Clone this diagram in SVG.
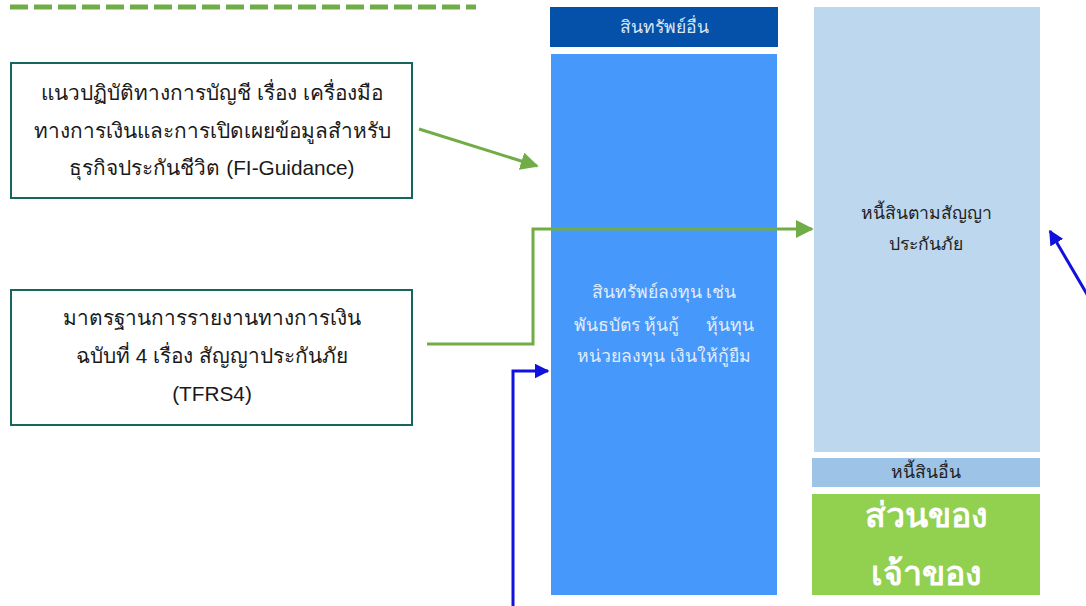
<svg xmlns="http://www.w3.org/2000/svg" width="1086" height="606" viewBox="0 0 1086 606">
<defs>
<style>
.src rect{fill:#fff;stroke:#17665E;stroke-width:2}
.src text{font-family:"Liberation Sans","Noto Sans",sans-serif;font-size:20.8px;fill:#1a1a1a;text-anchor:middle}
.lt{font-family:"Liberation Sans","Noto Sans",sans-serif;font-size:17.6px;text-anchor:middle}
.g{stroke:#70AD47;stroke-width:3;fill:none}
.b{stroke:#1111DD;stroke-width:3;fill:none}
</style>
<marker id="ag" viewBox="0 0 10 10" refX="9" refY="5" markerWidth="6" markerHeight="6" orient="auto" markerUnits="strokeWidth"><path d="M0,0L10,5L0,10z" fill="#70AD47"/></marker>
<marker id="ab" viewBox="0 0 10 10" refX="9" refY="5" markerWidth="5" markerHeight="5" orient="auto" markerUnits="strokeWidth"><path d="M0,0L10,5L0,10z" fill="#1111DD"/></marker>
</defs>
<rect width="1086" height="606" fill="#fff"/>
<line x1="10" y1="7" x2="476" y2="7" stroke="#70AD47" stroke-width="5" stroke-dasharray="18 6"/>
<g id="fi-guidance" class="src">
<rect x="11" y="63" width="401" height="135"/>
<text x="212" y="100">แนวปฏิบัติทางการบัญชี เรื่อง เครื่องมือ</text>
<text x="212" y="138">ทางการเงินและการเปิดเผยข้อมูลสำหรับ</text>
<text x="212" y="175">ธุรกิจประกันชีวิต (FI-Guidance)</text>
</g>
<g id="tfrs4" class="src">
<rect x="11" y="290" width="401" height="135"/>
<text x="212" y="325">มาตรฐานการรายงานทางการเงิน</text>
<text x="212" y="363">ฉบับที่ 4 เรื่อง สัญญาประกันภัย</text>
<text x="212" y="401">(TFRS4)</text>
</g>
<g id="other-assets">
<rect x="550" y="7" width="228" height="40" fill="#0550A8"/>
<text class="lt" x="664" y="33" fill="#D9E6F5">สินทรัพย์อื่น</text>
</g>
<g id="investment-assets">
<rect x="551" y="54" width="226" height="541" fill="#4698FA"/>
<text class="lt" x="664" y="298" fill="#E2EDFB">สินทรัพย์ลงทุน เช่น</text>
<text class="lt" x="664" y="331" fill="#E2EDFB">พันธบัตร หุ้นกู้ <tspan dx="22">หุ้นทุน</tspan></text>
<text class="lt" x="664" y="362" fill="#E2EDFB">หน่วยลงทุน เงินให้กู้ยืม</text>
</g>
<g id="insurance-liabilities">
<rect x="814" y="7" width="226" height="445" fill="#BDD7EE"/>
<text class="lt" x="926" y="219" fill="#222" font-size="18.4">หนี้สินตามสัญญา</text>
<text class="lt" x="926" y="250" fill="#222" font-size="18.4">ประกันภัย</text>
</g>
<g id="other-liabilities">
<rect x="812" y="458" width="228" height="29" fill="#9DC3E6"/>
<text class="lt" x="926" y="478" fill="#222" font-size="16">หนี้สินอื่น</text>
</g>
<g id="equity">
<rect x="812" y="494" width="228" height="101" fill="#92D050"/>
<text x="926" y="527" font-family="'Liberation Sans','Noto Sans',sans-serif" font-size="34" font-weight="bold" fill="#fff" text-anchor="middle">ส่วนของ</text>
<text x="926" y="585" font-family="'Liberation Sans','Noto Sans',sans-serif" font-size="34" font-weight="bold" fill="#fff" text-anchor="middle">เจ้าของ</text>
</g>
<g id="connectors">
<line class="g" x1="419" y1="129" x2="537" y2="166" marker-end="url(#ag)"/>
<polyline class="g" points="427,344 533,344 533,229 812,229" marker-end="url(#ag)"/>
<polyline class="b" points="513,606 513,371 548,371" marker-end="url(#ab)"/>
<line class="b" x1="1088" y1="296" x2="1050" y2="231" marker-end="url(#ab)"/>
</g>
</svg>
